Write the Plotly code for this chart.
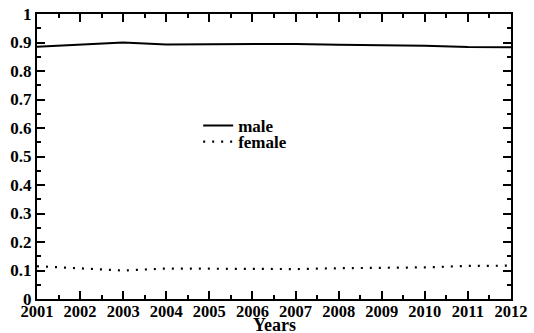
import plotly.graph_objects as go

years = list(range(2001, 2013))
male = [0.885, 0.892, 0.900, 0.893, 0.894, 0.893, 0.895, 0.892, 0.891, 0.889, 0.884, 0.883]
female = [0.115, 0.108, 0.100, 0.107, 0.106, 0.107, 0.105, 0.108, 0.109, 0.111, 0.116, 0.117]
y_ticks = [0, 0.1, 0.2, 0.3, 0.4, 0.5, 0.6, 0.7, 0.8, 0.9, 1]
y_tick_labels = ["0", "0.1", "0.2", "0.3", "0.4", "0.5", "0.6", "0.7", "0.8", "0.9", "1"]

font_family = "Liberation Serif"

fig = go.Figure()
fig.add_trace(go.Scatter(x=years, y=male, mode="lines", name="male", showlegend=True,
                         line=dict(color="black", width=2), legend="legend"))
fig.add_trace(go.Scatter(x=years, y=female, mode="lines", name="female", showlegend=True,
                         line=dict(color="black", width=2.2, dash="2px,7px"), legend="legend2"))

axis_common = dict(
    showline=True, linecolor="black", linewidth=2, mirror="allticks",
    ticks="inside", ticklen=8, tickwidth=2, tickcolor="black",
    showgrid=False, zeroline=False, automargin=False, ticklabeloverflow="allow",
)

fig.update_xaxes(
    range=[2001, 2012], tickmode="array", tickvals=years,
    ticktext=[str(y) for y in years],
    minor=dict(ticks="inside", ticklen=4, tickwidth=2, tickcolor="black", dtick=0.5, tick0=2001),
    ticklabelstandoff=-4,
    tickfont=dict(family=font_family, size=16.5, color="black", weight="bold"),
    **axis_common,
)
fig.update_yaxes(
    range=[0, 1], tickmode="array", tickvals=y_ticks, ticktext=y_tick_labels,
    minor=dict(ticks="inside", ticklen=4, tickwidth=2, tickcolor="black", dtick=0.05, tick0=0),
    tickfont=dict(family=font_family, size=17, color="black", weight="bold"),
    **axis_common,
)

fig.add_annotation(text="Years", xref="paper", yref="paper", x=0.5, y=0,
                   xanchor="center", yanchor="top", yshift=-14, showarrow=False,
                   font=dict(family=font_family, size=18, color="black", weight="bold"))

leg_font = dict(family=font_family, size=17, color="black", weight="bold")
fig.update_layout(
    width=534, height=333, showlegend=True,
    margin=dict(l=37, r=23, t=14, b=34),
    paper_bgcolor="white", plot_bgcolor="white",
    legend=dict(x=0.34, y=0.67, xanchor="left", yanchor="top", visible=True,
                bgcolor="rgba(0,0,0,0)", borderwidth=0, font=leg_font),
    legend2=dict(x=0.34, y=0.614, xanchor="left", yanchor="top", visible=True,
                 bgcolor="rgba(0,0,0,0)", borderwidth=0, font=leg_font),
)

fig.write_html("out.html", config={"displayModeBar": False},
               post_script="document.body.style.margin='0';")
